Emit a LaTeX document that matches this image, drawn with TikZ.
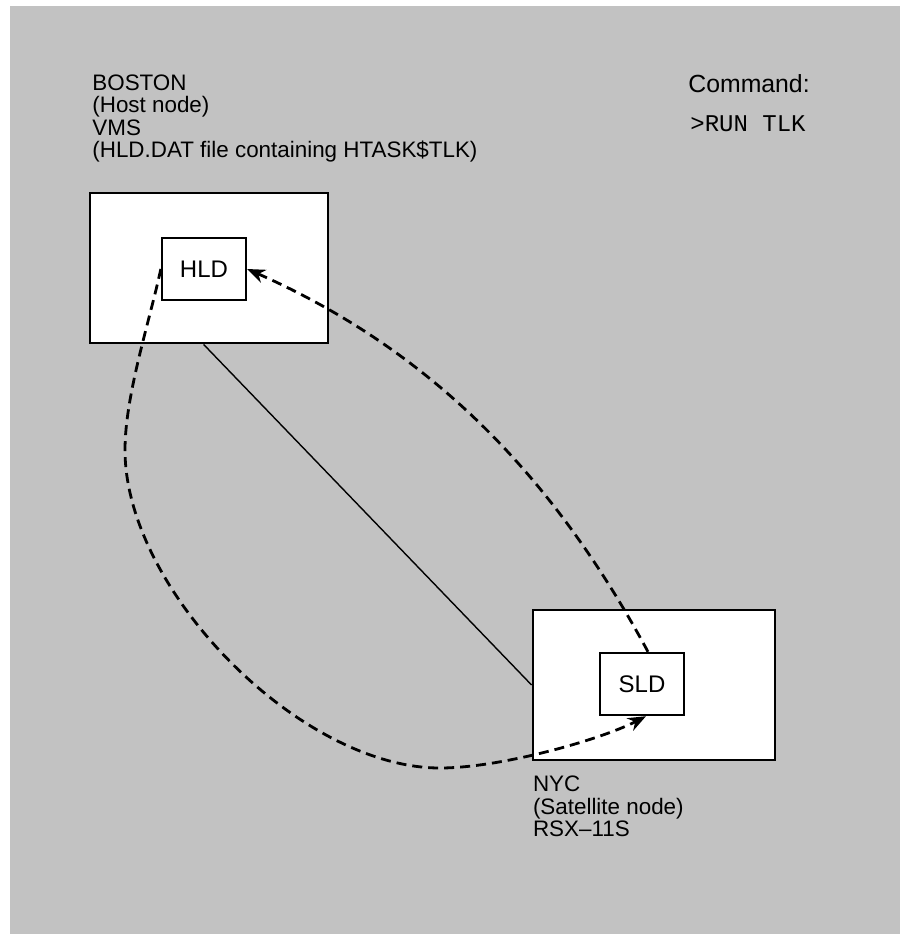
\documentclass[tikz,border=0pt]{standalone}
\usepackage{fontspec}
\setmainfont{Liberation Sans}
\setmonofont{Liberation Mono}
\usetikzlibrary{arrows.meta, positioning}
\definecolor{bggray}{gray}{0.76}
\tikzstyle{site} = [rectangle, draw=black, line width=1.4pt, fill=white, minimum width=119pt, minimum height=75pt]
\tikzstyle{task} = [rectangle, draw=black, line width=1.2pt, fill=white, minimum width=42pt, minimum height=31pt, font=\fontsize{12}{14}\selectfont]
\tikzstyle{sitetext} = [align=left, inner sep=0pt, font=\fontsize{11.2}{11.3}\selectfont]
\tikzstyle{link} = [line width=0.7pt]
\tikzstyle{arrow} = [line width=1.4pt, dash pattern=on 5pt off 3pt, -{Stealth[length=9pt,width=7pt]}]

\begin{document}
\begin{tikzpicture}[x=0.5pt, y=-0.5pt]
\useasboundingbox (0,0) rectangle (900,934);
\fill[bggray] (10,6) rectangle (900,934);
	\node (host) [site] at (209,268) {};
	\node (hld) [task] at (204,269) {HLD};
	\node (sat) [site, minimum width=121pt] at (654,685) {};
	\node (sld) [task] at (642,684) {SLD};
	\node (hosttxt) [sitetext, anchor=north west] at (92,74) {BOSTON\\(Host node)\\VMS\\(HLD.DAT file containing HTASK\$TLK)};
	\node (sattxt) [sitetext, below right=7pt and 0.5pt of sat.south west] {NYC\\(Satellite node)\\RSX--11S};
	\node (cmd) [sitetext, anchor=north west, font=\fontsize{12.4}{14}\selectfont] at (688,74) {Command:};
	\node (run) [sitetext, below right=11pt and 1pt of cmd.south west, font=\ttfamily\fontsize{12}{14}\selectfont] {>RUN TLK};
\draw [link] ([xshift=57.5pt]host.south west) -- (sat.west);
\draw [arrow] ([xshift=3pt]sld.north) .. controls (556,481) and (435,352) .. (hld.east);
\draw [arrow] (hld.west) .. controls (150,320) and (125,395) .. (125,450)
	.. controls (125,590) and (300,768) .. (440,768)
	.. controls (500,768) and (600,740) .. ([xshift=2pt]sld.south);
\end{tikzpicture}
\end{document}
